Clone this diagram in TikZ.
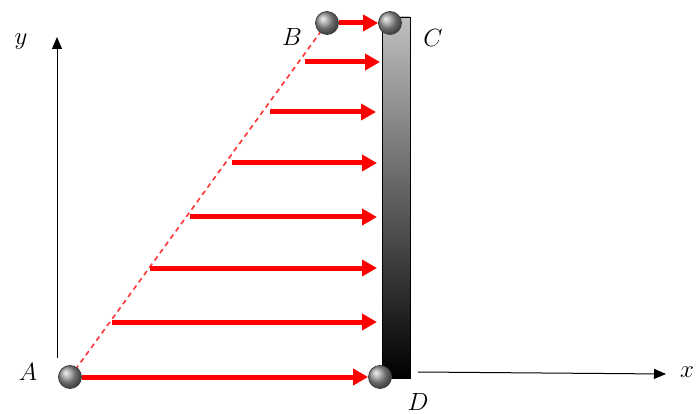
\documentclass[tikz,border=0pt]{standalone}
\usetikzlibrary{arrows.meta,shadings}
\begin{document}
\begin{tikzpicture}[x=1pt,y=-1pt,
  ball/.style={circle,minimum size=23pt,inner sep=0pt,draw=black!75,line width=0.8pt,ball color=black!40},
  force/.style={draw=red,line width=5pt,-{Triangle[length=15pt,width=16pt]}},
  axis/.style={draw=black,line width=1pt,-{Triangle[length=12pt,width=10pt]}},
  lbl/.style={font=\fontsize{29}{32}\selectfont,inner sep=0pt}]
\useasboundingbox (0,0) rectangle (696,414);
% wall
\shade[top color=black!25,bottom color=black,draw=black,line width=0.8pt] (382,17) rectangle (410,378);
% axes
\coordinate (y0) at (57,358);
\coordinate (y1) at (57,37);
\coordinate (x0) at (418,372);
\coordinate (x1) at (666,374);
\draw[axis] (y0) -- (y1);
\draw[axis] (x0) -- (x1);
% dashed line
\coordinate (Ac) at (70,377);
\coordinate (Bc) at (327,23);
\draw[red!80,line width=1.6pt,dash pattern=on 5pt off 4pt] (Ac) -- (Bc);
% force arrows
\foreach \i/\y/\xs/\xe in {1/62/305/380,2/112/270/376,3/163/232/377,4/217/190/377,5/268/150/377,6/322/112/377}{
  \coordinate (s\i) at (\xs,\y);
  \coordinate (e\i) at (\xe,\y);
  \draw[force] (s\i) -- (e\i);
}
% balls
\node[ball] (A) at (Ac) {};
\node[ball] (B) at (Bc) {};
\node[ball] (C) at (390,23) {};
\node[ball] (D) at (380,377) {};
\draw[force] (A) -- (D);
\draw[force] (B) -- (C);
% labels
\node[lbl] (ly) at (21,42) {$y$};
\node[lbl] (lx) at (687,372) {$x$};
\node[lbl] (lA) at (28,372) {$A$};
\node[lbl] (lB) at (292,37) {$B$};
\node[lbl] (lC) at (433,38) {$C$};
\node[lbl] (lD) at (418,402) {$D$};
\end{tikzpicture}
\end{document}
